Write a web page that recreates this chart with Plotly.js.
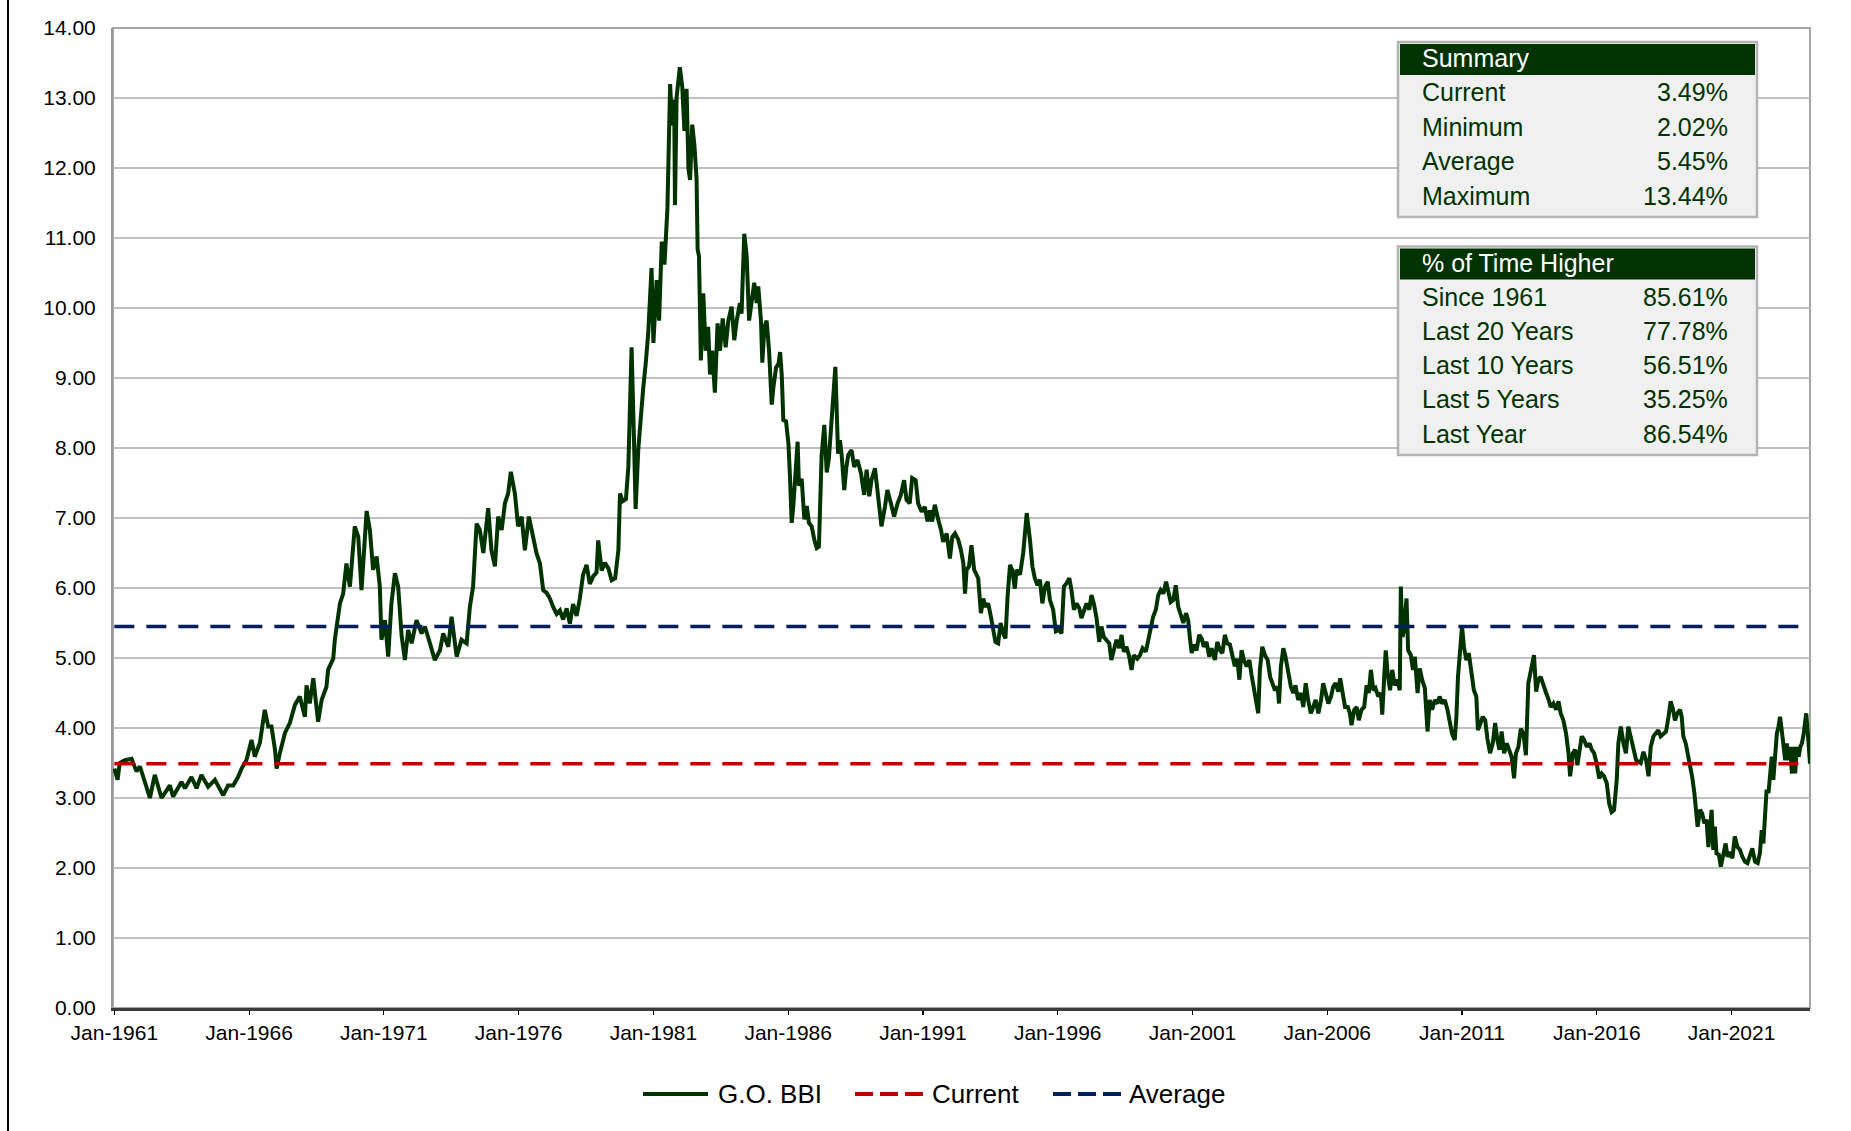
<!DOCTYPE html>
<html>
<head>
<meta charset="utf-8">
<script src="https://cdn.plot.ly/plotly-3.0.1.min.js"></script>
<style>
  html, body { margin: 0; padding: 0; background: #ffffff; }
  #wrap { position: relative; width: 1851px; height: 1131px; overflow: hidden; }
  #chart { position: absolute; left: 0; top: 0; width: 1851px; height: 1131px; }
  #edge { position: absolute; left: 7px; top: 0; width: 2px; height: 1131px; background: #000; }
</style>
</head>
<body>
<div id="wrap"><div id="chart"></div><div id="edge"></div></div>
<script>
// ---- DATA ----
const years = [
1961.00,1961.12,1961.20,1961.39,1961.64,1961.82,1961.95,1962.13,1962.32,1962.50,1962.75,1962.94,1963.06,1963.18,1963.49,1963.62,1963.86,1964.05,1964.23,1964.48,1964.73,1965.04,1965.22,1965.41,1965.59,1965.72,1965.90,1966.09,1966.21,1966.40,1966.58,1966.71,1966.83,1966.96,1967.02,1967.14,1967.33,1967.51,1967.70,1967.88,1968.07,1968.13,1968.25,1968.38,1968.56,1968.69,1968.87,1968.93,1969.12,
1969.18,1969.37,1969.49,1969.61,1969.74,1969.92,1970.05,1970.17,1970.36,1970.48,1970.60,1970.73,1970.85,1970.91,1971.04,1971.16,1971.28,1971.41,1971.53,1971.66,1971.78,1971.90,1972.03,1972.21,1972.40,1972.52,1972.71,1972.89,1973.08,1973.20,1973.39,1973.51,1973.70,1973.88,1974.07,1974.19,1974.31,1974.44,1974.56,1974.69,1974.87,1974.99,1975.12,1975.24,1975.37,1975.49,1975.61,1975.71,1975.86,1975.98,1976.11,1976.23,1976.38,1976.54,1976.66,1976.79,1976.91,
1977.04,1977.16,1977.28,1977.41,1977.53,1977.65,1977.78,1977.90,1978.02,1978.15,1978.27,1978.39,1978.52,1978.64,1978.77,1978.89,1978.95,1979.08,1979.20,1979.33,1979.45,1979.58,1979.70,1979.76,1979.86,1979.98,1980.07,1980.13,1980.19,1980.28,1980.34,1980.44,1980.54,1980.62,1980.72,1980.81,1980.93,1981.00,1981.12,1981.21,1981.31,1981.41,1981.52,1981.62,1981.69,1981.77,
1981.80,1981.86,1981.98,1982.07,1982.15,1982.23,1982.30,1982.36,1982.44,1982.52,1982.60,1982.64,1982.69,1982.76,1982.85,1982.94,1983.03,1983.10,1983.18,1983.28,1983.38,1983.47,1983.57,1983.68,1983.78,1983.90,1984.00,1984.09,1984.21,1984.27,1984.37,1984.46,1984.55,1984.64,1984.74,1984.83,1984.89,1984.99,1985.04,1985.12,1985.20,1985.29,1985.39,1985.45,1985.55,1985.64,1985.70,1985.76,1985.82,1985.92,1986.01,1986.07,1986.13,1986.19,1986.28,1986.35,1986.40,1986.50,1986.60,1986.69,1986.77,1986.87,1986.97,1987.06,1987.14,1987.24,1987.34,1987.43,1987.51,1987.61,1987.75,
1987.85,1987.92,1987.98,1988.08,1988.16,1988.23,1988.35,1988.45,1988.57,1988.70,1988.82,1988.91,1989.01,1989.09,1989.22,1989.31,1989.40,1989.46,1989.59,1989.68,1989.81,1989.93,1990.06,1990.18,1990.30,1990.39,1990.51,1990.60,1990.73,1990.82,1990.95,1991.07,1991.17,1991.26,1991.34,1991.44,1991.57,1991.67,1991.75,1991.88,1992.00,1992.09,1992.19,1992.31,1992.41,1992.50,1992.56,1992.62,1992.71,1992.80,1992.90,1993.05,1993.15,1993.24,1993.32,1993.42,1993.52,1993.61,1993.69,1993.79,1993.88,1993.98,1994.06,1994.14,1994.23,1994.31,1994.41,1994.47,1994.60,1994.72,1994.85,1994.97,1995.06,1995.15,1995.25,1995.34,1995.43,1995.53,1995.63,1995.71,
1995.83,1995.93,1996.06,1996.14,1996.23,1996.33,1996.43,1996.51,1996.60,1996.70,1996.80,1996.88,1996.97,1997.07,1997.17,1997.25,1997.34,1997.44,1997.54,1997.62,1997.71,1997.81,1997.91,1997.99,1998.08,1998.18,1998.28,1998.37,1998.45,1998.55,1998.64,1998.74,1998.82,1998.95,1999.05,1999.15,1999.27,1999.36,1999.45,1999.54,1999.64,1999.73,1999.82,1999.92,2000.02,2000.10,2000.19,2000.29,2000.38,2000.47,2000.56,2000.66,2000.76,2000.84,2000.90,2000.97,2001.05,2001.15,2001.25,2001.34,2001.42,2001.52,2001.62,2001.71,2001.83,2001.92,2002.02,2002.11,2002.20,2002.29,2002.39,2002.49,2002.57,2002.66,2002.74,2002.82,2002.91,2003.01,2003.11,2003.19,2003.28,2003.35,2003.44,2003.50,2003.59,
2003.69,2003.79,2003.88,2003.96,2004.06,2004.16,2004.21,2004.28,2004.37,2004.45,2004.55,2004.65,2004.74,2004.82,2004.92,2005.02,2005.11,2005.20,2005.29,2005.39,2005.48,2005.57,2005.67,2005.77,2005.85,2005.94,2006.04,2006.14,2006.22,2006.31,2006.41,2006.48,2006.56,2006.66,2006.76,2006.84,2006.90,2007.00,2007.09,2007.17,2007.27,2007.37,2007.46,2007.54,2007.62,2007.71,2007.79,2007.89,2007.99,2008.04,2008.12,2008.17,2008.24,2008.33,2008.41,2008.50,2008.60,2008.69,2008.73,2008.79,2008.85,2008.94,2009.00,2009.10,2009.18,2009.25,2009.35,2009.43,2009.52,2009.62,2009.72,2009.80,2009.89,2009.99,2010.09,2010.17,2010.26,2010.36,2010.46,2010.54,2010.63,2010.73,2010.79,2010.85,2010.91,2011.00,2011.07,2011.16,2011.25,2011.35,2011.44,2011.53,2011.59,
2011.77,2011.86,2011.94,2012.04,2012.14,2012.23,2012.31,2012.39,2012.47,2012.56,2012.66,2012.76,2012.84,2012.93,2013.00,2013.09,2013.18,2013.28,2013.37,2013.46,2013.52,2013.58,2013.67,2013.75,2013.83,2013.92,2014.02,2014.12,2014.20,2014.29,2014.39,2014.49,2014.58,2014.66,2014.76,2014.86,2014.95,2015.01,2015.11,2015.20,2015.28,2015.36,2015.44,2015.53,2015.63,2015.73,2015.81,2015.90,2015.99,2016.09,2016.18,2016.27,2016.37,2016.46,2016.55,2016.64,2016.74,2016.80,2016.89,2016.99,2017.08,2017.17,2017.26,2017.36,2017.46,2017.55,2017.63,2017.73,2017.83,2017.92,2018.00,2018.10,2018.20,2018.28,2018.37,2018.47,2018.57,2018.66,2018.74,2018.82,2018.90,2018.99,2019.09,
2019.15,2019.21,2019.30,2019.37,2019.46,2019.54,2019.62,2019.68,2019.74,2019.83,2019.91,2019.99,2020.07,2020.14,2020.20,2020.26,2020.32,2020.38,2020.44,2020.53,2020.60,2020.69,2020.78,2020.85,2020.94,2021.03,2021.12,2021.22,2021.31,2021.40,2021.50,2021.59,2021.68,2021.77,2021.87,2021.97,2022.05,2022.12,2022.18,2022.24,2022.30,2022.37,2022.43,2022.49,2022.55,2022.61,2022.68,2022.74,2022.80,2022.86,2022.92,2022.99,2023.05,2023.11,2023.17,2023.24,2023.30,2023.36,2023.42,2023.49,2023.55,2023.61,2023.67,2023.73,2023.77,2023.83,2023.91
];
const bbiRates = [
3.42,3.26,3.50,3.54,3.56,3.38,3.45,3.21,3.00,3.33,3.00,3.11,3.18,3.02,3.23,3.14,3.30,3.14,3.33,3.16,3.26,3.04,3.18,3.18,3.30,3.42,3.54,3.83,3.59,3.79,4.26,4.02,4.02,3.69,3.42,3.64,3.93,4.07,4.33,4.45,4.16,4.61,4.35,4.71,4.09,4.40,4.59,4.83,4.99,
5.26,5.78,5.92,6.35,6.02,6.88,6.73,5.97,7.10,6.83,6.26,6.45,6.02,5.26,5.54,5.02,5.78,6.21,6.02,5.31,4.97,5.40,5.21,5.54,5.35,5.45,5.21,4.97,5.11,5.35,5.16,5.59,5.02,5.26,5.21,5.73,6.02,6.92,6.83,6.50,7.14,6.54,6.31,7.02,6.83,7.21,7.35,7.66,7.35,6.88,7.02,6.54,7.02,6.73,6.50,6.35,5.97,
5.93,5.85,5.73,5.63,5.68,5.55,5.71,5.49,5.77,5.60,5.85,6.19,6.33,6.06,6.17,6.22,6.68,6.25,6.36,6.28,6.11,6.14,6.54,7.35,7.24,7.27,7.73,8.58,9.44,8.10,7.13,7.99,8.58,8.85,9.23,9.66,10.57,9.50,10.40,9.82,10.95,10.62,11.43,13.20,12.61,12.98,
11.47,13.01,13.44,13.16,12.53,13.13,11.99,11.83,12.62,12.33,11.85,10.84,10.74,9.25,10.21,9.39,9.73,9.05,9.39,8.79,9.78,9.39,9.85,9.44,9.82,10.02,9.54,9.82,10.07,9.92,11.06,10.74,9.82,10.07,10.36,10.07,10.31,9.82,9.22,9.73,9.82,9.39,8.62,8.86,9.15,9.20,9.37,9.05,8.40,8.38,8.06,7.56,6.93,7.17,7.60,8.09,7.46,7.56,6.98,7.17,6.93,6.88,6.69,6.57,6.59,7.89,8.33,7.65,7.85,8.38,9.16,
7.92,8.11,7.92,7.40,7.73,7.90,7.97,7.73,7.83,7.64,7.33,7.69,7.31,7.54,7.71,7.40,7.11,6.88,7.16,7.40,7.21,7.02,7.21,7.33,7.54,7.26,7.21,7.57,7.54,7.21,7.09,7.16,6.95,7.11,6.95,7.19,6.97,6.83,6.66,6.78,6.42,6.73,6.78,6.69,6.54,6.35,5.92,6.26,6.31,6.61,6.26,6.14,5.64,5.85,5.73,5.78,5.59,5.35,5.23,5.21,5.50,5.35,5.28,5.88,6.33,6.26,5.99,6.26,6.19,6.50,7.07,6.69,6.31,6.14,6.04,6.12,5.78,6.02,6.09,5.83,
5.69,5.38,5.40,5.35,6.02,6.07,6.14,5.97,5.69,5.78,5.71,5.57,5.69,5.78,5.69,5.90,5.78,5.57,5.23,5.45,5.30,5.26,5.21,4.97,5.11,5.26,5.14,5.33,5.09,5.16,5.04,4.83,5.04,4.99,5.04,5.14,5.09,5.26,5.45,5.59,5.69,5.90,5.97,5.92,6.09,5.97,5.80,5.83,6.04,5.73,5.64,5.50,5.64,5.54,5.30,5.07,5.19,5.11,5.33,5.28,5.16,5.23,5.02,5.14,4.97,5.23,5.11,5.07,5.33,5.21,5.19,5.02,4.88,4.99,4.69,5.11,4.97,4.88,4.97,4.76,4.54,4.35,4.21,4.83,5.16,
5.04,4.97,4.73,4.64,4.54,4.59,4.35,4.88,5.14,5.02,4.78,4.59,4.50,4.61,4.40,4.50,4.30,4.64,4.40,4.21,4.30,4.40,4.21,4.40,4.64,4.50,4.35,4.45,4.59,4.64,4.52,4.71,4.52,4.30,4.30,4.21,4.04,4.26,4.30,4.11,4.26,4.30,4.61,4.50,4.83,4.54,4.57,4.45,4.50,4.19,4.78,5.11,4.78,4.54,4.83,4.61,4.69,4.54,6.02,5.30,5.40,5.85,5.11,5.04,4.83,5.02,4.50,4.85,4.69,4.57,3.95,4.40,4.26,4.40,4.35,4.45,4.35,4.40,4.26,4.11,3.92,3.83,4.16,4.73,5.11,5.45,5.16,4.97,5.07,4.83,4.54,4.45,3.97,
4.16,4.11,3.85,3.64,3.78,4.07,3.83,3.69,3.95,3.64,3.78,3.66,3.59,3.28,3.64,3.73,3.99,3.92,3.61,4.64,4.76,4.92,5.04,4.52,4.69,4.73,4.59,4.50,4.42,4.30,4.35,4.26,4.38,4.21,4.11,3.92,3.64,3.31,3.64,3.69,3.47,3.71,3.88,3.83,3.73,3.78,3.69,3.64,3.50,3.28,3.35,3.31,3.21,2.92,2.80,2.83,3.26,3.78,4.02,3.78,3.64,4.02,3.88,3.73,3.54,3.52,3.50,3.66,3.54,3.31,3.73,3.88,3.92,3.97,3.88,3.92,3.95,4.16,4.38,4.28,4.11,4.21,4.26,
4.16,3.88,3.78,3.64,3.49,3.30,3.07,2.88,2.59,2.83,2.78,2.64,2.69,2.30,2.54,2.83,2.26,2.59,2.21,2.19,2.02,2.21,2.35,2.16,2.23,2.14,2.45,2.30,2.26,2.16,2.09,2.07,2.16,2.28,2.09,2.07,2.21,2.54,2.35,2.69,3.12,3.07,3.40,3.59,3.26,3.64,3.92,4.02,4.16,3.97,3.73,3.54,3.78,3.54,3.73,3.35,3.73,3.35,3.73,3.59,3.73,3.78,3.90,4.11,4.21,3.92,3.49
];
const seriesNames = ["G.O. BBI", "Current", "Average"];
const seriesColors = ["#003300", "#c00000", "#002060"];
const currentRate = 3.49;
const averageRate = 5.45;
const xTickYears = [1961,1966,1971,1976,1981,1986,1991,1996,2001,2006,2011,2016,2021];
const xTickLabels = ["Jan-1961","Jan-1966","Jan-1971","Jan-1976","Jan-1981","Jan-1986","Jan-1991","Jan-1996","Jan-2001","Jan-2006","Jan-2011","Jan-2016","Jan-2021"];
const summaryTitle = "Summary";
const summaryLabels = ["Current", "Minimum", "Average", "Maximum"];
const summaryValues = ["3.49%", "2.02%", "5.45%", "13.44%"];
const higherTitle = "% of Time Higher";
const higherLabels = ["Since 1961", "Last 20 Years", "Last 10 Years", "Last 5 Years", "Last Year"];
const higherValues = ["85.61%", "77.78%", "56.51%", "35.25%", "86.54%"];

// ---- LAYOUT ----
const W = 1851, H = 1131;
const M = {l: 113, r: 41, t: 28, b: 123};
const PW = W - M.l - M.r, PH = H - M.t - M.b;
const fx = px => (px - M.l) / PW;
const fy = py => (H - M.b - py) / PH;
const FONT = '"Liberation Sans", Arial, sans-serif';
const GREEN = '#003300';
const DASH = '20px,12px';
const xStart = years[0], xEnd = years[years.length - 1];

const traces = [
  {x: years, y: bbiRates, type: 'scatter', mode: 'lines', name: seriesNames[0],
   line: {color: seriesColors[0], width: 4}},
  {x: [xStart, xEnd], y: [currentRate, currentRate], type: 'scatter', mode: 'lines', name: seriesNames[1],
   line: {color: seriesColors[1], width: 3.5, dash: DASH}},
  {x: [xStart, xEnd], y: [averageRate, averageRate], type: 'scatter', mode: 'lines', name: seriesNames[2],
   line: {color: seriesColors[2], width: 3.5, dash: DASH}}
];

const shapes = [];
const annotations = [];
function table(top, title, labels, values, rowH) {
  const left = 1398, right = 1757, headH = 33;
  const bottom = top + headH + 4 + labels.length * rowH;
  shapes.push({type: 'rect', xref: 'paper', yref: 'paper', x0: fx(left), x1: fx(right), y0: fy(top), y1: fy(bottom),
    fillcolor: '#f0f0f0', line: {color: '#b4b4b4', width: 2.5}, layer: 'above'});
  shapes.push({type: 'rect', xref: 'paper', yref: 'paper', x0: fx(left + 2), x1: fx(right - 2), y0: fy(top + 2), y1: fy(top + headH),
    fillcolor: GREEN, line: {width: 0}, layer: 'above'});
  annotations.push({xref: 'paper', yref: 'paper', x: fx(1420), y: fy(top + headH / 2), xanchor: 'left', yanchor: 'middle',
    text: title, showarrow: false, font: {family: FONT, size: 25, color: '#ffffff'}});
  labels.forEach((lab, i) => {
    const cy = top + headH + 17 + i * rowH;
    annotations.push({xref: 'paper', yref: 'paper', x: fx(1420), y: fy(cy), xanchor: 'left', yanchor: 'middle',
      text: lab, showarrow: false, font: {family: FONT, size: 25, color: GREEN}});
    annotations.push({xref: 'paper', yref: 'paper', x: fx(1730), y: fy(cy), xanchor: 'right', yanchor: 'middle',
      text: values[i], showarrow: false, font: {family: FONT, size: 25, color: GREEN}});
  });
}
table(42, summaryTitle, summaryLabels, summaryValues, 34.5);
table(246.5, higherTitle, higherLabels, higherValues, 34.3);

// plot frame
shapes.push({type: 'rect', xref: 'paper', yref: 'paper', x0: 0, x1: 1, y0: 0, y1: 1,
  line: {color: '#a6a6a6', width: 2}, fillcolor: 'rgba(0,0,0,0)', layer: 'below'});

// legend (drawn as samples + labels to match the reference key spacing)
const legendY = 1094;
const legendItems = [
  {x0: 643, x1: 708, tx: 716, dash: 'solid', width: 4},
  {x0: 855, x1: 923, tx: 930, dash: '18px,7px', width: 4},
  {x0: 1053, x1: 1121, tx: 1127, dash: '18px,7px', width: 4}
];
legendItems.forEach((it, i) => {
  shapes.push({type: 'line', xref: 'paper', yref: 'paper', x0: fx(it.x0), x1: fx(it.x1), y0: fy(legendY), y1: fy(legendY),
    line: {color: seriesColors[i], width: it.width, dash: it.dash}});
  annotations.push({xref: 'paper', yref: 'paper', x: fx(it.tx), y: fy(legendY), xanchor: 'left', yanchor: 'middle',
    text: seriesNames[i], showarrow: false, font: {family: FONT, size: 26, color: '#000000'}});
});

const layout = {
  width: W, height: H,
  margin: M,
  paper_bgcolor: '#ffffff', plot_bgcolor: '#ffffff',
  font: {family: FONT, size: 21, color: '#000000'},
  showlegend: false,
  xaxis: {
    type: 'linear', range: [xStart - 0.05, xEnd],
    tickmode: 'array', tickvals: xTickYears, ticktext: xTickLabels,
    ticks: 'outside', ticklen: 4, tickwidth: 1.2, tickcolor: '#000000',
    showgrid: false, zeroline: false,
    showline: true, linecolor: '#3a3a3a', linewidth: 2.5,
    tickfont: {family: FONT, size: 21, color: '#000000'}
  },
  yaxis: {
    range: [0, 14], tickmode: 'linear', tick0: 0, dtick: 1, tickformat: '.2f',
    ticks: '', showgrid: true, gridcolor: '#c0c0c0', gridwidth: 1.5,
    zeroline: false, showline: true, linecolor: '#999999', linewidth: 2,
    ticklabelstandoff: 11,
    tickfont: {family: FONT, size: 21, color: '#000000'}
  },
  shapes: shapes,
  annotations: annotations
};

Plotly.newPlot('chart', traces, layout, {staticPlot: true, displayModeBar: false});
</script>
</body>
</html>
